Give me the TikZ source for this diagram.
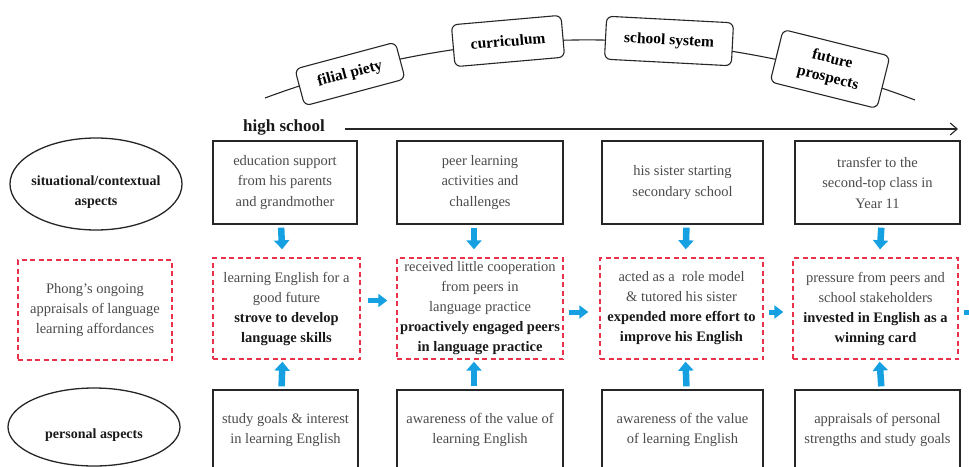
\documentclass[tikz,border=0pt]{standalone}
\usepackage{fontspec}
\setmainfont{Liberation Serif}
\usetikzlibrary{arrows.meta,shapes.geometric,backgrounds}
\definecolor{arrowblue}{RGB}{20,160,225}
\definecolor{dashred}{RGB}{232,50,75}
\definecolor{txtgray}{RGB}{75,75,75}
\newcommand{\bt}[1]{\textcolor{black!90}{\textbf{#1}}}
\begin{document}
\begin{tikzpicture}[x=1pt,y=-1pt,
  solidbox/.style={draw=black!85, line width=1.3pt, align=center, text=txtgray,
    font=\fontsize{14.5}{20.5}\selectfont, inner xsep=0pt, inner ysep=2pt},
  dashbox/.style={draw=dashred, line width=1.4pt, dash pattern=on 5pt off 3.5pt,
    align=center, text=txtgray, font=\fontsize{14.5}{20}\selectfont, inner xsep=0pt, inner ysep=1pt},
  aspect/.style={ellipse, draw=black!85, line width=1.3pt, inner sep=0pt},
  aspecttext/.style={align=center, inner sep=0pt, text=black!90,
    font=\bfseries\fontsize{14}{20}\selectfont},
  tag/.style={draw=black!85, line width=1.1pt, rounded corners=6pt, fill=white, align=center,
    inner sep=1pt, font=\bfseries\fontsize{15.5}{19}\selectfont},
  downarrow/.style={draw=arrowblue, line width=6.5pt, -{Triangle[width=15pt,length=9pt]}},
  rightarrow/.style={draw=arrowblue, line width=5pt, -{Triangle[width=13pt,length=9pt]}},
  timeline/.style={draw=black!85, line width=1.1pt, -{Straight Barb[length=7pt,width=12pt]}},
]
\useasboundingbox (0,0) rectangle (969,466);
\clip (0,0) rectangle (969,466);

% factor tags on the arc
\node[tag, rotate=15, minimum width=104pt, minimum height=38pt] (fp) at (350,74) {filial piety};
\node[tag, rotate=5, minimum width=110pt, minimum height=42pt] (cur) at (508,41) {curriculum};
\node[tag, rotate=-3, minimum width=127pt, minimum height=43pt] (ss) at (669,41) {school system};
\node[tag, rotate=-14, minimum width=110pt, minimum height=54pt] (fut) at (830,69) {future\\prospects};
\coordinate (arcL) at (265,98);
\coordinate (arcR) at (915,100);
\begin{scope}[on background layer]
  \draw[line width=1.1pt, black!85] (arcL) to[bend left=20.6, looseness=0.88] (arcR);
\end{scope}

% timeline
\node[font=\bfseries\fontsize{17}{20}\selectfont, text=black!90] (hs) at (284,127) {high school};
\coordinate (tlend) at (958,129);
\draw[timeline, shorten <=17pt] (hs.east |- tlend) -- (tlend);

% aspects
\node[aspect, minimum width=172pt, minimum height=92pt] (sit) at (96,184) {};
\node[aspecttext] (sitlabel) at ([yshift=-8pt]sit.center) {situational/contextual\\aspects};
\node[aspect, minimum width=172pt, minimum height=78pt] (pers) at (94,427) {};
\node[aspecttext] (perslabel) at ([yshift=-8pt]pers.center) {personal aspects};

% top row
\node[solidbox, minimum width=144pt, minimum height=83pt] (t1) at (285,182.5) {education support\\from his parents\\and grandmother};
\node[solidbox, minimum width=166pt, minimum height=83pt] (t2) at (480,182.5) {peer learning\\activities and\\challenges};
\node[solidbox, minimum width=161pt, minimum height=83pt] (t3) at (682.5,182.5) {his sister starting\\secondary school};
\node[solidbox, minimum width=165pt, minimum height=83pt] (t4) at (877.5,182.5) {transfer to the\\second-top class in\\Year 11};

% middle row
\node[dashbox, minimum width=154pt, minimum height=100pt] (m0) at (95,310) {Phong’s ongoing\\appraisals of language\\learning affordances};
\node[dashbox, minimum width=147pt, minimum height=101pt] (m1) at (286.5,308.5) {learning English for a\\good future\\\bt{strove to develop}\\\bt{language skills}};
\node[dashbox, minimum width=166pt, minimum height=101pt] (m2) at (480,308.5) {received little cooperation\\from peers in\\language practice\\\bt{proactively engaged peers}\\\bt{in language practice}};
\node[dashbox, minimum width=163pt, minimum height=101pt] (m3) at (681.5,308.5) {acted as a~ role model\\\& tutored his sister\\\bt{expended more effort to}\\\bt{improve his English}};
\node[dashbox, minimum width=165pt, minimum height=101pt] (m4) at (875.5,308.5) {pressure from peers and\\school stakeholders\\\bt{invested in English as a}\\\bt{winning card}};
\coordinate (offright) at (990,312);

% bottom row
\node[solidbox, minimum width=145pt, minimum height=80pt] (b1) at (285.5,430) {study goals \& interest\\in learning English};
\node[solidbox, minimum width=166pt, minimum height=80pt] (b2) at (480,430) {awareness of the value of\\learning English};
\node[solidbox, minimum width=161pt, minimum height=80pt] (b3) at (682.5,430) {awareness of the value\\of learning English};
\node[solidbox, minimum width=165pt, minimum height=80pt] (b4) at (877.5,430) {appraisals of personal\\strengths and study goals};

% down arrows
\draw[downarrow, shorten <=3pt, shorten >=8pt] ([xshift=-4pt]t1.south) -- ([xshift=-4pt]m1.north);
\draw[downarrow, shorten <=3pt, shorten >=8pt] ([xshift=-6pt]t2.south) -- ([xshift=-6pt]m2.north);
\draw[downarrow, shorten <=3pt, shorten >=8pt] ([xshift=4pt]t3.south) -- ([xshift=4pt]m3.north);
\draw[downarrow, shorten <=3pt, shorten >=8pt] ([xshift=4pt]t4.south) -- ([xshift=4pt]m4.north);

% up arrows
\draw[downarrow, shorten <=3pt, shorten >=2pt] ([xshift=-4pt]b1.north) -- ([xshift=-4pt]m1.south);
\draw[downarrow, shorten <=3pt, shorten >=2pt] ([xshift=-6pt]b2.north) -- ([xshift=-6pt]m2.south);
\draw[downarrow, shorten <=3pt, shorten >=2pt] ([xshift=4pt]b3.north) -- ([xshift=4pt]m3.south);
\draw[downarrow, shorten <=3pt, shorten >=2pt] ([xshift=4pt]b4.north) -- ([xshift=4pt]m4.south);

% right arrows
\draw[rightarrow, shorten <=7pt, shorten >=9pt] ([yshift=8pt]m1.east) -- ([yshift=8pt]m2.west);
\draw[rightarrow, shorten <=5pt, shorten >=11pt] ([yshift=-3.5pt]m2.east) -- ([yshift=-3.5pt]m3.west);
\draw[rightarrow, shorten <=5pt, shorten >=9pt] ([yshift=-3.5pt]m3.east) -- ([yshift=-3.5pt]m4.west);
\draw[rightarrow, shorten <=5pt] ([yshift=-3.5pt]m4.east) -- (offright);
\end{tikzpicture}
\end{document}
